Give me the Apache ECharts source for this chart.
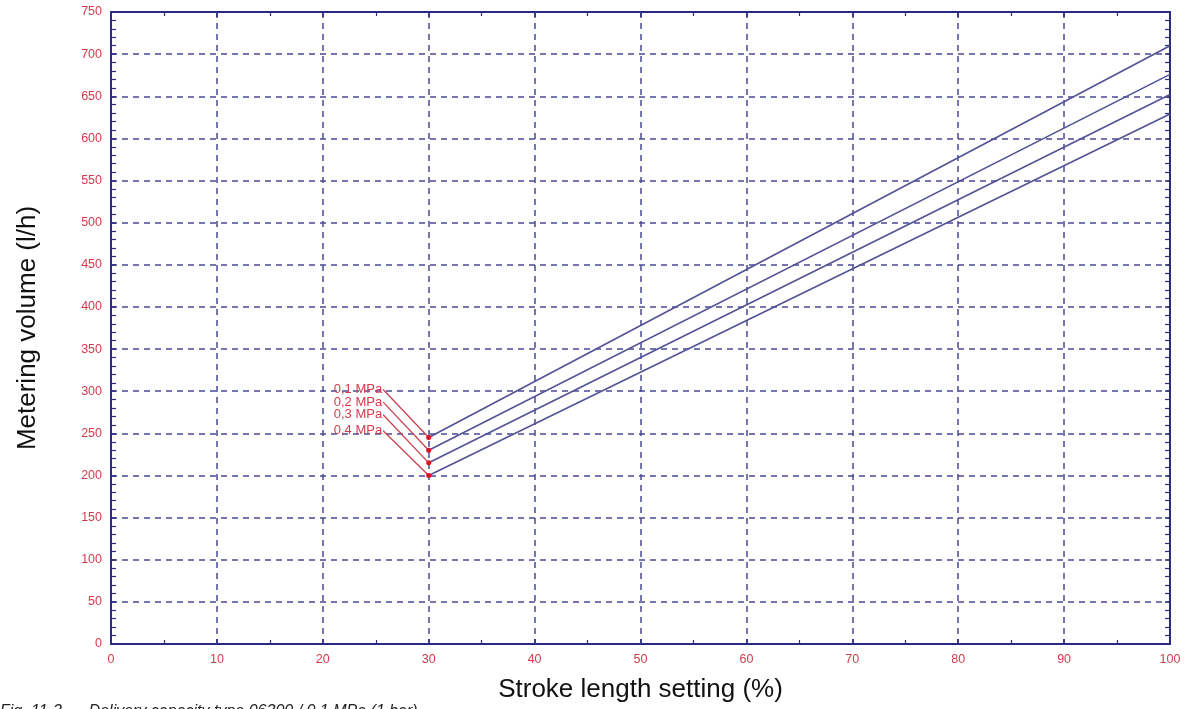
<!DOCTYPE html>
<html>
<head>
<meta charset="utf-8">
<script src="https://cdn.jsdelivr.net/npm/echarts@6/dist/echarts.min.js"></script>
<style>
html,body{margin:0;padding:0;background:#fff;}
#chart{width:1196px;height:709px;}
</style>
</head>
<body>
<div id="chart"></div>
<script>
// ---- data ----
const pressureLabels = ['0,1 MPa', '0,2 MPa', '0,3 MPa', '0,4 MPa'];
const strokeSettings = [30, 100];
const volumes01 = [245, 710];
const volumes02 = [230, 676];
const volumes03 = [215, 652];
const volumes04 = [200, 629];
const labelAnchorX = 25.7;
const labelAnchorY = [302, 287, 272, 253];
const xTicks = [0, 10, 20, 30, 40, 50, 60, 70, 80, 90, 100];
const yTicks = [0, 50, 100, 150, 200, 250, 300, 350, 400, 450, 500, 550, 600, 650, 700, 750];
const xTitle = 'Stroke length setting (%)';
const yTitle = 'Metering volume (l/h)';
const caption = 'Fig. 11-3      Delivery capacity type 06300 / 0,1 MPa (1 bar)';

const allVolumes = [volumes01, volumes02, volumes03, volumes04];
const axisColor = '#2b2b85';
const gridColor = '#4a4a98';
const lineColor = '#525296';
const labelRed = '#d33a4c';
const leaderRed = '#c9434f';
const fontFam = 'Liberation Sans, Arial, sans-serif';

const series = [];
allVolumes.forEach((vals, i) => {
  series.push({
    type: 'line',
    data: strokeSettings.map((s, k) => [s, vals[k]]),
    symbol: 'none',
    lineStyle: { color: lineColor, width: 1.6 },
    silent: true,
    z: 3
  });
  series.push({
    type: 'line',
    showSymbol: true,
    showAllSymbol: true,
    data: [
      { value: [labelAnchorX, labelAnchorY[i]], symbol: 'circle', symbolSize: 0.1,
        itemStyle: { color: leaderRed },
        label: { show: true, position: 'left', distance: 1, formatter: pressureLabels[i],
                 color: labelRed, fontSize: 13, fontFamily: fontFam } },
      { value: [strokeSettings[0], vals[0]], symbol: 'circle', symbolSize: 5,
        itemStyle: { color: '#e0101e' }, label: { show: false } }
    ],
    lineStyle: { color: leaderRed, width: 1.3 },
    silent: true,
    z: 4
  });
});

const option = {
  animation: false,
  backgroundColor: '#ffffff',
  grid: { left: 111, right: 26, top: 12, bottom: 65, containLabel: false },
  xAxis: [{
    type: 'value', min: 0, max: 100, interval: 10,
    axisLine: { show: true, onZero: false, lineStyle: { color: axisColor, width: 2 } },
    axisTick: { show: true, inside: true, length: 5, lineStyle: { color: axisColor, width: 1.5 } },
    minorTick: { show: true, splitNumber: 2, length: 4, lineStyle: { color: axisColor, width: 1.2 } },
    axisLabel: { color: labelRed, fontSize: 12.5, fontFamily: fontFam, margin: 9,
                 formatter: v => xTicks.includes(v) ? String(v) : '' },
    splitLine: { show: true, lineStyle: { color: gridColor, type: [6, 5], width: 1.5 } },
    name: xTitle, nameLocation: 'middle', nameGap: 33,
    nameTextStyle: { color: '#111', fontSize: 26, fontFamily: fontFam }
  }, {
    type: 'value', min: 0, max: 100, interval: 10, position: 'top',
    axisLine: { show: true, onZero: false, lineStyle: { color: axisColor, width: 2 } },
    axisTick: { show: true, inside: true, length: 5, lineStyle: { color: axisColor, width: 1.5 } },
    minorTick: { show: true, splitNumber: 2, length: 4, lineStyle: { color: axisColor, width: 1.2 } },
    axisLabel: { show: false }, splitLine: { show: false }
  }],
  yAxis: [{
    type: 'value', min: 0, max: 750, interval: 50,
    axisLine: { show: true, onZero: false, lineStyle: { color: axisColor, width: 2 } },
    axisTick: { show: true, inside: true, length: 5, lineStyle: { color: axisColor, width: 1.5 } },
    minorTick: { show: true, splitNumber: 5, length: 5, lineStyle: { color: axisColor, width: 1.2 } },
    axisLabel: { color: labelRed, fontSize: 12.5, fontFamily: fontFam, margin: 9,
                 formatter: v => yTicks.includes(v) ? String(v) : '' },
    splitLine: { show: true, lineStyle: { color: gridColor, type: [6, 5], width: 1.5 } },
    name: yTitle, nameLocation: 'middle', nameGap: 70, nameRotate: 90,
    nameTextStyle: { color: '#111', fontSize: 26, fontFamily: fontFam }
  }, {
    type: 'value', min: 0, max: 750, interval: 50, position: 'right',
    axisLine: { show: true, onZero: false, lineStyle: { color: axisColor, width: 2 } },
    axisTick: { show: true, inside: true, length: 5, lineStyle: { color: axisColor, width: 1.5 } },
    minorTick: { show: true, splitNumber: 5, length: 5, lineStyle: { color: axisColor, width: 1.2 } },
    axisLabel: { show: false }, splitLine: { show: false }
  }],
  graphic: [{
    type: 'text', left: 0, top: 704,
    style: { text: caption, fill: '#222', fontSize: 16, fontStyle: 'italic', fontFamily: fontFam }
  }],
  series: series
};

const chart = echarts.init(document.getElementById('chart'), null, { renderer: 'canvas' });
chart.setOption(option);
</script>
</body>
</html>
